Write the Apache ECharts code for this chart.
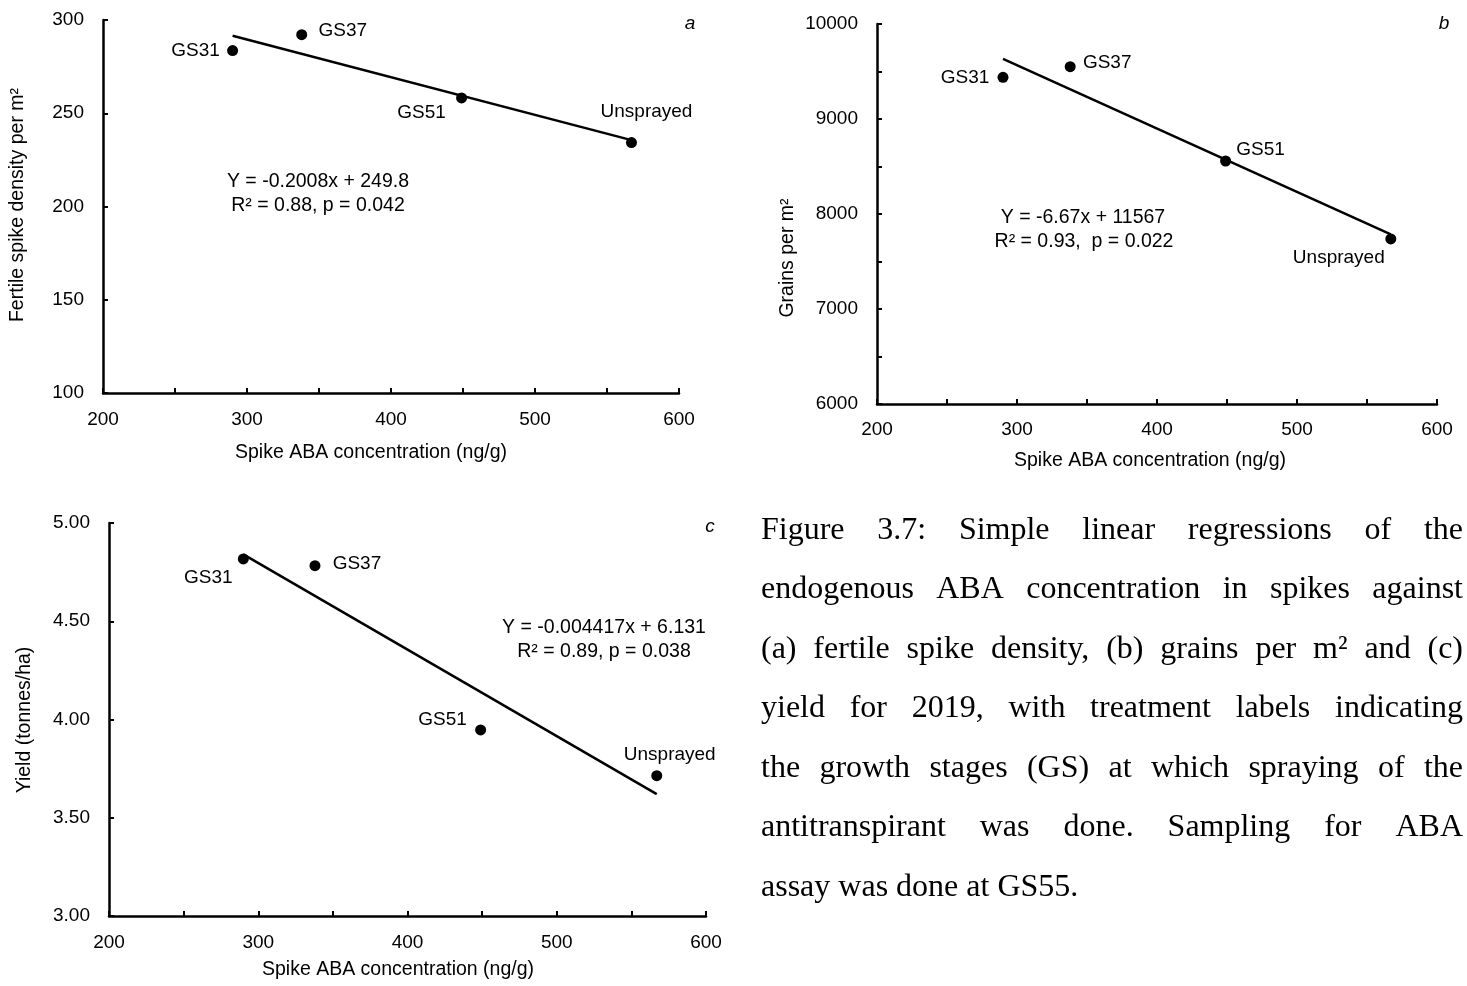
<!DOCTYPE html>
<html><head><meta charset="utf-8">
<script src="https://cdn.jsdelivr.net/npm/echarts@6/dist/echarts.min.js"></script>
<style>html,body{margin:0;padding:0;background:#fff}#c{width:1467px;height:986px}</style>
</head><body><div id="c"></div>
<script>
// ---------- data ----------
const treatments = ['GS31', 'GS37', 'GS51', 'Unsprayed'];
const abaConc = [290, 338, 449, 567];
const spikeDensity = [283.6, 292.1, 258.2, 234.3];
const grainsPerM2 = [9439, 9551, 8558, 7737];
const yieldTHa = [4.817, 4.783, 3.947, 3.714];
const trendX = [290, 567];
const trendSpike = [291.6, 235.6];
const trendGrains = [9632, 7785];
const trendYield = [4.84, 3.62];
const xTicks = [200, 300, 400, 500, 600];
const spikeTicks = [100, 150, 200, 250, 300];
const grainTicks = [6000, 7000, 8000, 9000, 10000];
const yieldTicks = [3.0, 3.5, 4.0, 4.5, 5.0];
const eqA = ['Y = -0.2008x + 249.8', 'R² = 0.88, p = 0.042'];
const eqB = ['Y = -6.67x + 11567', 'R² = 0.93,  p = 0.022'];
const eqC = ['Y = -0.004417x + 6.131', 'R² = 0.89, p = 0.038'];
const xName = 'Spike ABA concentration (ng/g)';
const yNameA = 'Fertile spike density per m²';
const yNameB = 'Grains per m²';
const yNameC = 'Yield (tonnes/ha)';
const captionLines = [
  'Figure 3.7: Simple linear regressions of the',
  'endogenous ABA concentration in spikes against',
  '(a) fertile spike density, (b) grains per m² and (c)',
  'yield for 2019, with treatment labels indicating',
  'the growth stages (GS) at which spraying of the',
  'antitranspirant was done. Sampling for ABA',
  'assay was done at GS55.'
];

// ---------- styles / layout ----------
const SANS = 'Liberation Sans';
const FS = 19;
const labelOffsetsA = [[-37, 0], [41, -4], [-40, 15], [15, -31]];
const labelOffsetsB = [[-38, 0], [37, -4], [35, -11], [-52, 19]];
const labelOffsetsC = [[-35, 19], [42, -2], [-38, -10], [13, -21]];

const chart = echarts.init(document.getElementById('c'), null, {renderer: 'canvas'});

function xAxisCfg(gi, margin) {
  return {
    type: 'value', gridIndex: gi, min: xTicks[0], max: xTicks[xTicks.length - 1],
    interval: (xTicks[1] - xTicks[0]) / 2,
    axisLine: {show: true, onZero: false, lineStyle: {color: '#000', width: 2.5}},
    axisTick: {show: true, inside: true, length: 5, lineStyle: {color: '#000', width: 2}},
    axisLabel: {margin: margin, color: '#000', fontSize: FS, fontFamily: SANS,
      formatter: v => xTicks.indexOf(v) >= 0 ? String(v) : ''},
    splitLine: {show: false}
  };
}
function yAxisCfg(gi, ticks, half, fmt) {
  return {
    type: 'value', gridIndex: gi, min: ticks[0], max: ticks[ticks.length - 1],
    interval: half ? (ticks[1] - ticks[0]) / 2 : (ticks[1] - ticks[0]),
    axisLine: {show: true, onZero: false, lineStyle: {color: '#000', width: 2.5}},
    axisTick: {show: true, inside: true, length: 5, lineStyle: {color: '#000', width: 2}},
    axisLabel: {margin: 19, color: '#000', fontSize: FS, fontFamily: SANS,
      formatter: v => ticks.some(t => Math.abs(t - v) < 1e-9) ? fmt(v) : ''},
    splitLine: {show: false}
  };
}
function pointsSeries(gi, ys, offsets) {
  return {
    type: 'scatter', xAxisIndex: gi, yAxisIndex: gi, symbol: 'circle', symbolSize: 11, z: 5,
    itemStyle: {color: '#000', opacity: 1},
    label: {show: true, position: 'inside', formatter: '{b}', color: '#000', opacity: 1,
      fontSize: FS, fontFamily: SANS},
    emphasis: {disabled: true},
    data: treatments.map((t, i) => ({name: t, value: [abaConc[i], ys[i]], label: {offset: offsets[i]}}))
  };
}
function trendSeries(gi, ys) {
  return {
    type: 'line', xAxisIndex: gi, yAxisIndex: gi, symbol: 'none', z: 3,
    lineStyle: {color: '#000', width: 2.5}, emphasis: {disabled: true},
    data: trendX.map((x, i) => [x, ys[i]])
  };
}
function txt(x, y, text, opts) {
  opts = opts || {};
  const size = opts.size || FS;
  const family = opts.family || SANS;
  const style = opts.italic ? 'italic ' : '';
  return {
    type: 'text', x: x, y: y, rotation: opts.rotation || 0, silent: true,
    style: {text: text, font: style + size + 'px "' + family + '"', fill: '#000',
      align: opts.align || 'center', textAlign: opts.align || 'center',
      verticalAlign: 'middle', textVerticalAlign: 'middle'}
  };
}

// caption: justified words
function captionGraphics() {
  const size = 32, family = 'Liberation Serif';
  const left = 761, right = 1463;
  const base0 = 541, step = 59.5;
  const ctx = document.createElement('canvas').getContext('2d');
  ctx.font = size + 'px "' + family + '"';
  const els = [];
  captionLines.forEach((line, li) => {
    const words = line.split(' ');
    const widths = words.map(w => ctx.measureText(w).width);
    const sum = widths.reduce((a, b) => a + b, 0);
    const last = li === captionLines.length - 1;
    const gap = last ? ctx.measureText(' ').width : (right - left - sum) / (words.length - 1);
    let x = left;
    const y = base0 + li * step - 0.34 * size;
    words.forEach((w, wi) => {
      els.push(txt(x, y, w, {size: size, family: family, align: 'left'}));
      x += widths[wi] + gap;
    });
  });
  return els;
}

const option = {
  animation: false,
  backgroundColor: '#fff',
  grid: [
    {left: 103, top: 20, width: 576, height: 373, outerBoundsMode: 'none'},
    {left: 877, top: 24, width: 560, height: 380, outerBoundsMode: 'none'},
    {left: 109, top: 523, width: 597, height: 393, outerBoundsMode: 'none'}
  ],
  xAxis: [xAxisCfg(0, 17), xAxisCfg(1, 16), xAxisCfg(2, 17)],
  yAxis: [
    yAxisCfg(0, spikeTicks, false, v => String(v)),
    yAxisCfg(1, grainTicks, true, v => String(v)),
    yAxisCfg(2, yieldTicks, false, v => v.toFixed(2))
  ],
  series: [
    trendSeries(0, trendSpike), pointsSeries(0, spikeDensity, labelOffsetsA),
    trendSeries(1, trendGrains), pointsSeries(1, grainsPerM2, labelOffsetsB),
    trendSeries(2, trendYield), pointsSeries(2, yieldTHa, labelOffsetsC)
  ],
  graphic: {elements: [
    txt(371, 453, xName, {size: 19.5}),
    txt(1150, 461, xName, {size: 19.5}),
    txt(398, 970, xName, {size: 19.5}),
    txt(18, 205, yNameA, {size: 19.5, rotation: Math.PI / 2}),
    txt(788, 258, yNameB, {size: 19.5, rotation: Math.PI / 2}),
    txt(25, 720, yNameC, {size: 19.5, rotation: Math.PI / 2}),
    txt(318, 182, eqA[0], {size: 19.5}), txt(318, 206, eqA[1], {size: 19.5}),
    txt(1083, 218, eqB[0], {size: 19.5}), txt(1084, 242, eqB[1], {size: 19.5}),
    txt(604, 628, eqC[0], {size: 19.5}), txt(604, 652, eqC[1], {size: 19.5}),
    txt(690, 24, 'a', {size: 19, italic: true}),
    txt(1444, 24, 'b', {size: 19, italic: true}),
    txt(710, 527, 'c', {size: 19, italic: true})
  ].concat(captionGraphics())}
};
chart.setOption(option);
</script></body></html>
